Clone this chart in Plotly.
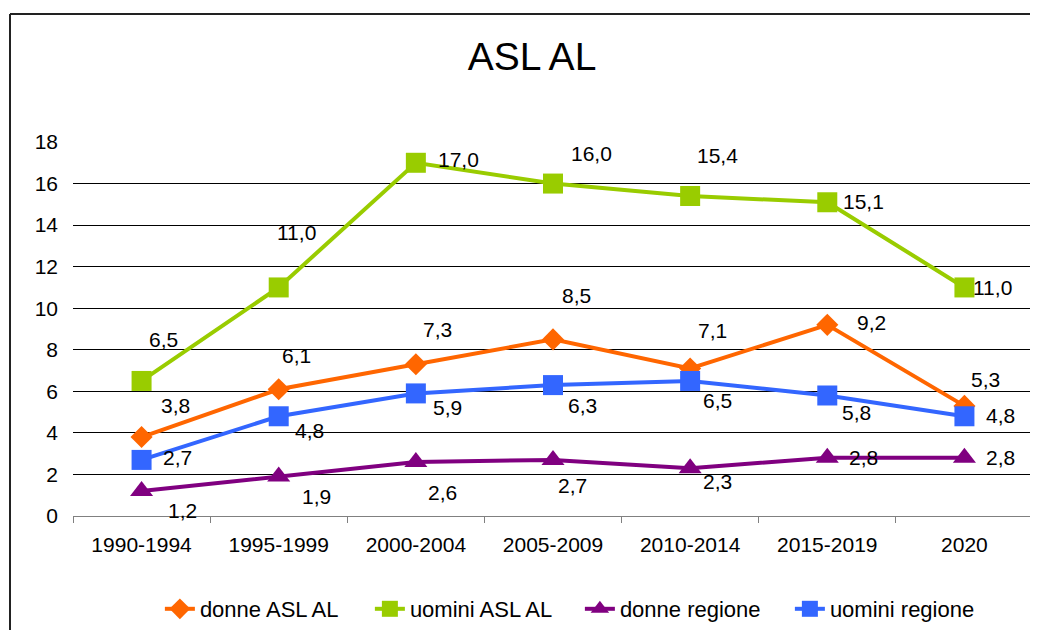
import plotly.graph_objects as go

categories = ["1990-1994", "1995-1999", "2000-2004", "2005-2009", "2010-2014", "2015-2019", "2020"]
donne_asl = [3.8, 6.1, 7.3, 8.5, 7.1, 9.2, 5.3]
uomini_asl = [6.5, 11.0, 17.0, 16.0, 15.4, 15.1, 11.0]
donne_regione = [1.2, 1.9, 2.6, 2.7, 2.3, 2.8, 2.8]
uomini_regione = [2.7, 4.8, 5.9, 6.3, 6.5, 5.8, 4.8]
y_ticks = [0, 2, 4, 6, 8, 10, 12, 14, 16, 18]

# label offsets (pixels, label centre relative to point) - style only
off_donne_asl = [(34, -32), (18, -34), (22, -35), (23, -44), (22, -38), (44, -2), (21, -26)]
off_uomini_asl = [(22, -41), (18, -55), (43, -3), (38, -30), (27, -41), (36, -1), (28, 0)]
off_donne_reg = [(41, 19), (38, 20), (27, 31), (19, 26), (27, 13), (36, 0), (36, 0)]
off_uomini_reg = [(36, -2), (31, 14), (32, 14), (29, 20), (27, 20), (29, 17), (36, -1)]

FONT = "Liberation Sans, Arial, sans-serif"

series = [
    ("donne ASL AL", donne_asl, "#FF6600", "diamond", 17, off_donne_asl),
    ("uomini ASL AL", uomini_asl, "#99CC00", "square", 20, off_uomini_asl),
    ("donne regione", donne_regione, "#800080", "triangle-up", 20, off_donne_reg),
    ("uomini regione", uomini_regione, "#3366FF", "square", 20, off_uomini_reg),
]

# page has an 8px body margin, so the figure is drawn 8px in from the window
W, H = 1030, 622
L, R, T, B = 65, 5, 134, 114
PW, PH = W - L - R, H - T - B

fig = go.Figure()
annotations = []
for name, vals, col, sym, msize, offs in series:
    fig.add_trace(go.Scatter(
        x=categories, y=vals, name=name, mode="lines+markers",
        line=dict(color=col, width=4),
        marker=dict(symbol=sym, size=msize, color=col, line=dict(width=0)),
    ))
    for i, (v, (dx, dy)) in enumerate(zip(vals, offs)):
        annotations.append(dict(
            x=i, y=v, xref="x", yref="y", text=f"{v:.1f}".replace(".", ","),
            showarrow=False, xanchor="center", yanchor="middle",
            xshift=dx, yshift=-dy, font=dict(family=FONT, size=21, color="#000"),
        ))

fig.update_layout(
    width=W, height=H,
    margin=dict(l=L, r=R, t=T, b=B, autoexpand=False),
    paper_bgcolor="white", plot_bgcolor="white",
    font=dict(family=FONT, size=21, color="#000"),
    title=dict(text="ASL AL", x=(532 - 8) / W, xanchor="center", xref="container",
               y=1 - 48 / H, yref="container", yanchor="middle",
               font=dict(family=FONT, size=39, color="#000")),
    showlegend=True,
    legend=dict(orientation="h", x=0.528, xanchor="center", xref="paper",
                y=1 - 601 / H, yref="container", yanchor="middle",
                font=dict(family=FONT, size=22, color="#000"),
                entrywidth=165, entrywidthmode="pixels",
                itemsizing="trace"),
    annotations=annotations,
    shapes=[
        dict(type="line", xref="paper", yref="paper",
             x0=(2 - L) / PW, x1=(W + 5 - L) / PW,
             y0=(T + PH - 6) / PH, y1=(T + PH - 6) / PH,
             line=dict(color="#222", width=2)),
        dict(type="line", xref="paper", yref="paper",
             x0=(2 - L) / PW, x1=(2 - L) / PW,
             y0=(T + PH - 6) / PH, y1=(T + PH - H - 5) / PH,
             line=dict(color="#222", width=2)),
    ],
)
fig.update_xaxes(
    type="category", range=[-0.5, len(categories) - 0.5], automargin=False,
    showgrid=False, showline=True, linecolor="#808080", linewidth=1,
    ticks="outside", tickson="boundaries", ticklen=6, tickcolor="#808080",
    tickangle=0, ticklabelstandoff=10,
    tickfont=dict(family=FONT, size=21, color="#000"),
)
fig.update_yaxes(
    range=[0, 18], tickvals=y_ticks, automargin=False,
    showgrid=True, gridcolor="#000", gridwidth=1,
    zeroline=False, showline=False, ticks="", ticklabelstandoff=14,
    tickfont=dict(family=FONT, size=21, color="#000"),
)
fig.write_html("out.html")
